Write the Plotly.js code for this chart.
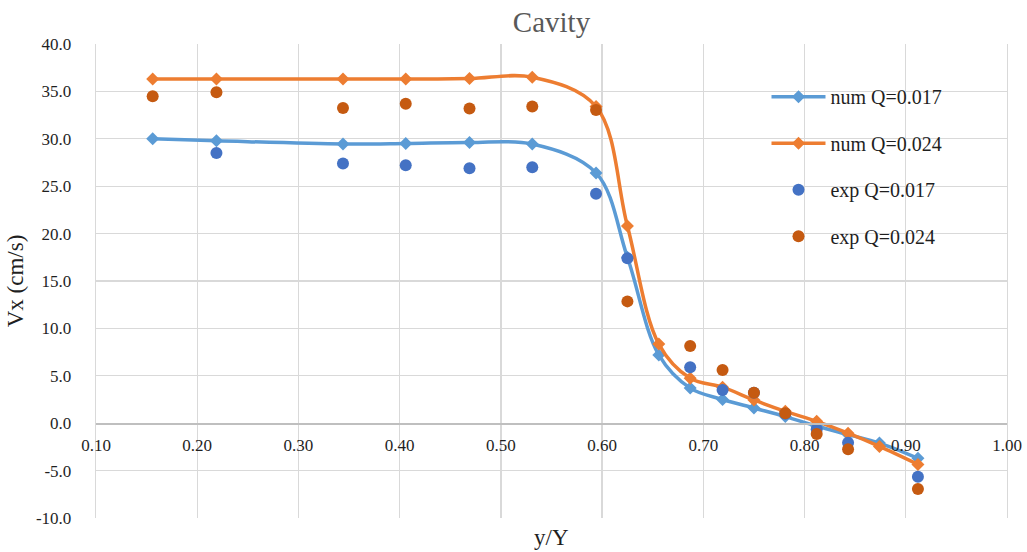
<!DOCTYPE html>
<html>
<head>
<meta charset="utf-8">
<script src="https://cdn.plot.ly/plotly-3.0.1.min.js"></script>
<style>
  html, body { margin: 0; padding: 0; background: #fff; }
  #chart { width: 1027px; height: 552px; }
</style>
</head>
<body>
<div id="chart"></div>
<script>
// Relative position across the cavity (y/Y)
const yNum = [0.156, 0.219, 0.344, 0.406, 0.469, 0.531, 0.594, 0.625, 0.656,
              0.687, 0.719, 0.750, 0.781, 0.812, 0.843, 0.874, 0.912];

// Simulated velocity profiles, Vx in cm/s
const numQ017 = [30.0, 29.8, 29.45, 29.5, 29.6, 29.45, 26.4, 17.5, 7.2,
                 3.7, 2.5, 1.6, 0.7, -0.3, -1.2, -2.1, -3.7];
const numQ024 = [36.3, 36.3, 36.3, 36.3, 36.35, 36.5, 33.4, 20.8, 8.35,
                 4.75, 3.8, 2.45, 1.25, 0.2, -1.05, -2.45, -4.35];

// Measured velocities
const yExp017 = [0.219, 0.344, 0.406, 0.469, 0.531, 0.594, 0.625,
                 0.687, 0.719, 0.750, 0.781, 0.812, 0.843, 0.912];
const expQ017 = [28.5, 27.4, 27.2, 26.9, 27.0, 24.2, 17.4,
                 5.9, 3.5, 3.2, 1.0, -0.65, -2.05, -5.65];

const yExp024 = [0.156, 0.219, 0.344, 0.406, 0.469, 0.531, 0.594, 0.625,
                 0.687, 0.719, 0.750, 0.781, 0.812, 0.843, 0.912];
const expQ024 = [34.5, 34.9, 33.25, 33.7, 33.2, 33.4, 33.05, 12.85,
                 8.15, 5.6, 3.2, 1.05, -1.15, -2.75, -6.95];

const xTicks = [0.1, 0.2, 0.3, 0.4, 0.5, 0.6, 0.7, 0.8, 0.9, 1.0];
const xTickText = ['0.10', '0.20', '0.30', '0.40', '0.50', '0.60', '0.70', '0.80', '0.90', '1.00'];
const yTicks = [-10, -5, 0, 5, 10, 15, 20, 25, 30, 35, 40];
const yTickText = ['-10.0', '-5.0', '0.0', '5.0', '10.0', '15.0', '20.0', '25.0', '30.0', '35.0', '40.0'];

const serif = 'Liberation Serif, Times New Roman, serif';
const textColor = '#1f1f1f';

const traces = [
  {
    x: yNum, y: numQ017, name: 'num Q=0.017', type: 'scatter', mode: 'lines+markers',
    line: { color: '#5B9BD5', width: 3.5, shape: 'spline', smoothing: 1 },
    marker: { symbol: 'diamond', size: 10, color: '#5B9BD5' },
    legendgroup: 'a'
  },
  {
    x: yNum, y: numQ024, name: 'num Q=0.024', type: 'scatter', mode: 'lines+markers',
    line: { color: '#ED7D31', width: 3.5, shape: 'spline', smoothing: 1 },
    marker: { symbol: 'diamond', size: 10, color: '#ED7D31' },
    legendgroup: 'b'
  },
  {
    x: yExp017, y: expQ017, name: 'exp Q=0.017', type: 'scatter', mode: 'markers',
    marker: { symbol: 'circle', size: 12, color: '#4472C4' },
    legendgroup: 'c'
  },
  {
    x: yExp024, y: expQ024, name: 'exp Q=0.024', type: 'scatter', mode: 'markers',
    marker: { symbol: 'circle', size: 12, color: '#C55A11' },
    legendgroup: 'd'
  }
];

const layout = {
  width: 1027, height: 552,
  margin: { l: 96, r: 20, t: 44, b: 34 },
  paper_bgcolor: '#ffffff', plot_bgcolor: '#ffffff',
  font: { family: serif, color: textColor, size: 17 },
  title: {
    text: 'Cavity', x: 0.5, xref: 'paper', xanchor: 'center',
    y: 1, yref: 'container', yanchor: 'top', pad: { t: 12 },
    font: { family: serif, size: 29, color: '#595959' }
  },
  showlegend: true,
  legend: {
    x: 0.736, y: 0.93, xanchor: 'left', yanchor: 'top',
    font: { family: serif, size: 20, color: textColor },
    traceorder: 'grouped', tracegroupgap: 17.5, itemwidth: 54,
    bgcolor: 'rgba(0,0,0,0)'
  },
  xaxis: {
    range: [0.1, 1.0], tickvals: xTicks, ticktext: xTickText,
    anchor: 'free', position: 0.2,
    showgrid: true, gridcolor: '#d9d9d9', gridwidth: 1.3,
    showline: true, linecolor: '#bfbfbf', linewidth: 1.5,
    zeroline: false, ticks: '', ticklabelstandoff: 6,
    tickfont: { family: serif, size: 17, color: textColor }
  },
  yaxis: {
    range: [-10, 40], tickvals: yTicks, ticktext: yTickText,
    showgrid: true, gridcolor: '#d9d9d9', gridwidth: 1.3,
    showline: true, mirror: true, linecolor: '#d9d9d9', linewidth: 1.3,
    zeroline: false, ticks: '', ticklabelstandoff: 20,
    tickfont: { family: serif, size: 17, color: textColor },
    title: { text: 'Vx (cm/s)', standoff: 5, font: { family: serif, size: 23, color: textColor } }
  },
  annotations: [
    {
      text: 'y/Y', xref: 'paper', yref: 'paper', x: 0.5, y: 0,
      xanchor: 'center', yanchor: 'top', yshift: -5, showarrow: false,
      font: { family: serif, size: 23, color: textColor }
    }
  ]
};

Plotly.newPlot('chart', traces, layout, { displayModeBar: false, staticPlot: true });
</script>
</body>
</html>
